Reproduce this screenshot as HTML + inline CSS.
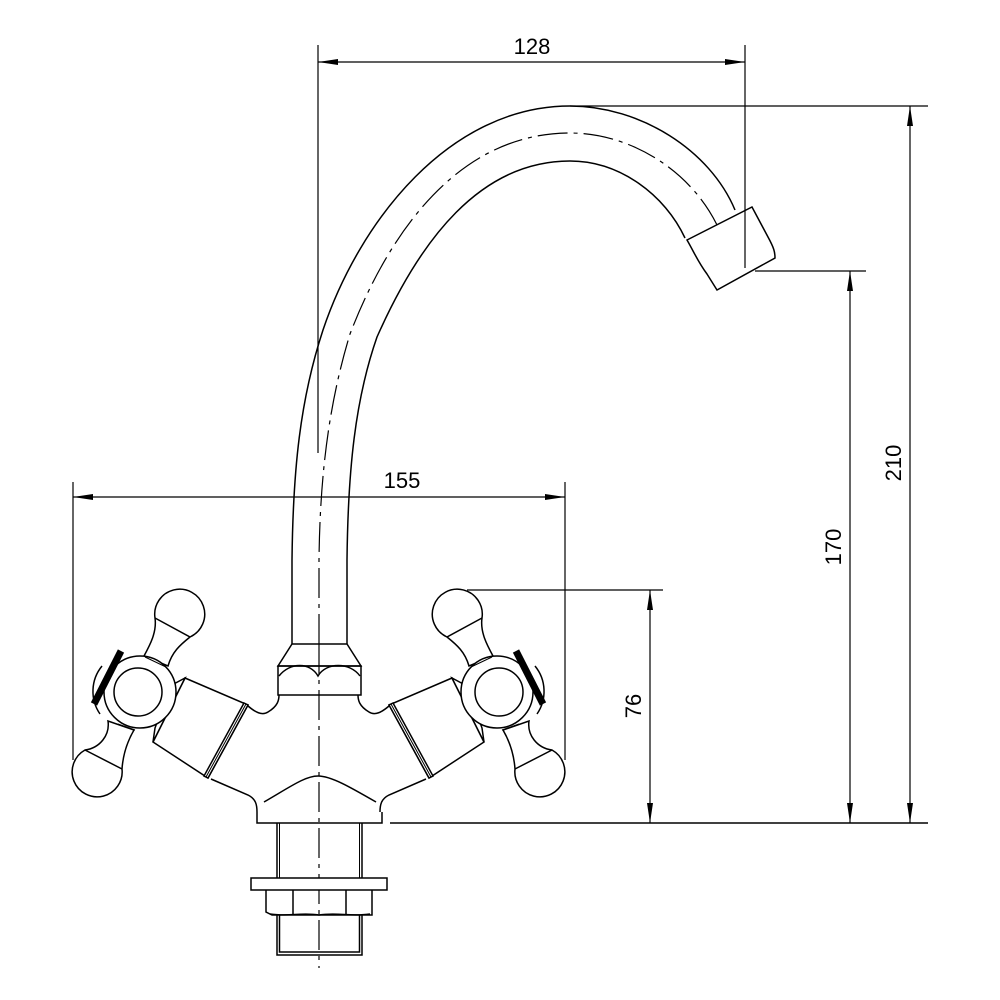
<!DOCTYPE html>
<html><head><style>body{margin:0;background:#fff}svg{display:block}text{font-family:"Liberation Sans",sans-serif;font-size:22px;fill:#000}</style></head><body>
<svg width="1000" height="1000" viewBox="0 0 1000 1000" xmlns="http://www.w3.org/2000/svg">
<defs>
<marker id="a" markerWidth="20" markerHeight="8" refX="20" refY="4" orient="auto-start-reverse" markerUnits="userSpaceOnUse"><path d="M0,1 L20,4 L0,7 Z" fill="#000"/></marker>
<g id="h" fill="#fff" stroke="#000" stroke-width="1.5">
<!-- arm -->
<path d="M185,678 L248,705 L208,778 L153,742 Z"/>
<path d="M244,703 L248,705 L208,778 L204,776 Z"/>
<line x1="246" y1="704" x2="206" y2="777" stroke-width="1"/>
<path d="M170,686 L185,678 L153,742 L155,728 Z"/>
<!-- levers -->
<path d="M155,618 A25,25 0 1 1 190,637 C180,645 172,652 168,666 L144,656 C150,645 157,632 155,618 Z"/>
<line x1="155" y1="618" x2="190" y2="637"/>
<path d="M108,721 C110,735 100,748 85,750 A25,25 0 1 0 122,769 C123,755 127,742 134,730 Z"/>
<line x1="85" y1="750" x2="122" y2="769"/>
<!-- ring -->
<path d="M102,666 A40,40 0 0 0 100,714"/>
<circle cx="140" cy="692" r="36"/>
<circle cx="138" cy="692" r="24"/>
<line x1="145" y1="657" x2="166" y2="667" stroke-width="1"/>
<line x1="118" y1="724" x2="135" y2="730" stroke-width="1"/>
<line x1="94" y1="704" x2="121" y2="651" stroke-width="7"/>
<!-- body side -->
<path d="M248,706 C255,712 262,716 268,712 C278,706 279,700 279,695" fill="none"/>
<path d="M211,779 L248,795 C256,799 257,805 257,812" fill="none"/>
</g>
</defs>
<g fill="none" stroke="#000" stroke-width="1.5">
<path d="M292,644 L292,560 C293,470 300,400 323,330 C360,220 450,106 570,106 C640,106 710,150 735,210"/>
<path d="M347,644 L347,560 C348,470 355,400 377,337 C420,240 480,161 570,161 C620,161 665,195 685,238"/>
<path d="M319,644 L319,560 C320,470 330,400 350,334 C390,230 460,133 570,133 C630,133 690,170 717,225" stroke-dasharray="30,6,4,6" stroke-width="1.2"/>
<path d="M687,240 L752,207 L768,237 C774,248 775,252 775,258 L717,290 L707,274 C698,262 694,252 687,240 Z" fill="#fff"/>
<path d="M292,644 L347,644 L361,666 L278,666 Z"/>
<rect x="278" y="666" width="83" height="29"/>
<path d="M279,676 C290,662 310,662 318,676 C326,662 350,662 360,676"/>
<path d="M257,812 L257,823 L382,823 L382,812"/>
<path d="M264,802 C290,787 305,776 318,776 C331,776 350,787 376,802"/>
<line x1="318" y1="45" x2="318" y2="453" stroke-width="1.2"/>
<line x1="319" y1="644" x2="319" y2="968" stroke-dasharray="30,6,4,6" stroke-width="1.2"/>
<line x1="277" y1="823" x2="277" y2="878"/><line x1="279.5" y1="823" x2="279.5" y2="878" stroke-width="1"/>
<line x1="362" y1="823" x2="362" y2="878"/><line x1="359.5" y1="823" x2="359.5" y2="878" stroke-width="1"/>
<rect x="251" y="878" width="136" height="12" fill="#fff"/>
<path d="M266,890 L266,912 L272,915 L372,915 L372,890 M293,890 L293,914 M346,890 L346,914"/>
<path d="M270,914 C290,917 300,912 319,915 C338,912 350,917 370,914"/>
<path d="M277,915 L277,955 L362,955 L362,915 M279.5,915 L279.5,952 L359.5,952 L359.5,915"/>
</g>
<use href="#h"/>
<use href="#h" transform="translate(637,0) scale(-1,1)"/>
<g stroke="#000" stroke-width="1.2" fill="none">
<line x1="745" y1="45" x2="745" y2="268"/>
<line x1="318" y1="62" x2="745" y2="62" marker-start="url(#a)" marker-end="url(#a)"/>
<line x1="73" y1="482" x2="73" y2="760"/>
<line x1="565" y1="482" x2="565" y2="760"/>
<line x1="73" y1="497" x2="565" y2="497" marker-start="url(#a)" marker-end="url(#a)"/>
<line x1="570" y1="106" x2="928" y2="106"/>
<line x1="755" y1="271" x2="866" y2="271"/>
<line x1="467" y1="590" x2="663" y2="590"/>
<line x1="390" y1="823" x2="928" y2="823" stroke-width="1.5"/>
<line x1="910" y1="106" x2="910" y2="823" marker-start="url(#a)" marker-end="url(#a)"/>
<line x1="850" y1="271" x2="850" y2="823" marker-start="url(#a)" marker-end="url(#a)"/>
<line x1="650" y1="590" x2="650" y2="823" marker-start="url(#a)" marker-end="url(#a)"/>
</g>
<text x="532" y="54" text-anchor="middle">128</text>
<text x="402" y="488" text-anchor="middle">155</text>
<text transform="translate(901,463) rotate(-90)" text-anchor="middle">210</text>
<text transform="translate(841,547) rotate(-90)" text-anchor="middle">170</text>
<text transform="translate(641,706) rotate(-90)" text-anchor="middle">76</text>
</svg>
</body></html>
